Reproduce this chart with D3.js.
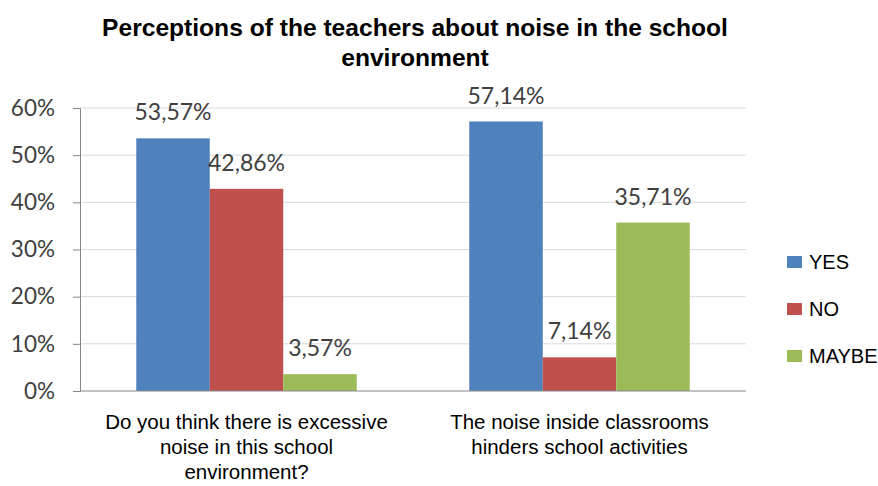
<!DOCTYPE html>
<html>
<head>
<meta charset="utf-8">
<script src="https://cdn.jsdelivr.net/npm/d3@7"></script>
<style>
  html, body { margin: 0; padding: 0; background: #fff; }
  svg { display: block; }
</style>
</head>
<body>
<svg id="chart" width="878" height="486"></svg>
<script>
// Survey answers, in percent
const categories = [
  ["Do you think there is excessive", "noise in this school", "environment?"],
  ["The noise inside classrooms", "hinders school activities"]
];
const seriesNames = ["YES", "NO", "MAYBE"];
const yesValues = [53.57, 57.14];
const noValues = [42.86, 7.14];
const maybeValues = [3.57, 35.71];
const yTicks = [0, 10, 20, 30, 40, 50, 60];
const titleLines = ["Perceptions of the teachers about noise in the school", "environment"];

const colors = ["#4F81BD", "#C0504D", "#9BBB59"];
const seriesValues = [yesValues, noValues, maybeValues];

const svg = d3.select("#chart");
const margin = { left: 80, right: 132, top: 108, bottom: 95 };
const W = 878, H = 486;
const plotW = W - margin.left - margin.right;
const plotH = H - margin.top - margin.bottom;

const g = svg.append("g").attr("transform", `translate(${margin.left},${margin.top})`);

const x0 = d3.scaleBand().domain(d3.range(categories.length)).range([0, plotW]).paddingInner(0.338).paddingOuter(0.169);
const x1 = d3.scaleBand().domain(d3.range(seriesNames.length)).range([0, x0.bandwidth()]);
const y = d3.scaleLinear().domain([0, 60]).range([plotH, 0]);

// Gridlines
g.append("g")
  .selectAll("line")
  .data(yTicks.filter(t => t > 0))
  .join("line")
  .attr("x1", 0).attr("x2", plotW)
  .attr("y1", d => y(d)).attr("y2", d => y(d))
  .attr("stroke", "#d9d9d9").attr("stroke-width", 1);

// Y axis
const yAxis = g.append("g")
  .call(d3.axisLeft(y).tickValues(yTicks).tickFormat(d => d + "%").tickSize(7).tickPadding(18));
yAxis.select(".domain").attr("stroke", "#868686");
yAxis.selectAll(".tick line").attr("stroke", "#868686");
yAxis.selectAll(".tick text")
  .attr("font-family", "Lato, 'Open Sans', sans-serif")
  .attr("font-size", 22.5)
  .attr("fill", "#404040");

// Bars
const groups = g.append("g")
  .selectAll("g")
  .data(categories.map((c, i) => i))
  .join("g")
  .attr("transform", i => `translate(${x0(i)},0)`);

groups.selectAll("rect")
  .data(i => seriesValues.map((vals, s) => ({ s, v: vals[i] })))
  .join("rect")
  .attr("x", d => x1(d.s))
  .attr("width", x1.bandwidth())
  .attr("y", d => y(d.v))
  .attr("height", d => y(0) - y(d.v))
  .attr("fill", d => colors[d.s]);

groups.selectAll("text.val")
  .data(i => seriesValues.map((vals, s) => ({ s, v: vals[i] })))
  .join("text")
  .attr("class", "val")
  .attr("x", d => x1(d.s) + x1.bandwidth() / 2)
  .attr("y", d => y(d.v) - 18)
  .attr("text-anchor", "middle")
  .attr("font-family", "Lato, 'Open Sans', sans-serif")
  .attr("font-size", 23)
  .attr("fill", "#404040")
  .text(d => d.v.toFixed(2).replace(".", ",") + "%");

// X axis baseline
g.append("line")
  .attr("x1", 0).attr("x2", plotW)
  .attr("y1", y(0)).attr("y2", y(0))
  .attr("stroke", "#868686");

// Category labels
categories.forEach((lines, i) => {
  const cx = x0(i) + x0.bandwidth() / 2;
  const t = g.append("text")
    .attr("x", cx)
    .attr("y", plotH + 38)
    .attr("text-anchor", "middle")
    .attr("font-family", "'Liberation Sans', Arial, sans-serif")
    .attr("font-size", 20.5)
    .attr("fill", "#000");
  lines.forEach((l, k) => {
    t.append("tspan").attr("x", cx).attr("dy", k === 0 ? 0 : 25).text(l);
  });
});

// Title
const title = svg.append("text")
  .attr("x", 415)
  .attr("y", 36)
  .attr("text-anchor", "middle")
  .attr("font-family", "'Liberation Sans', Arial, sans-serif")
  .attr("font-weight", "bold")
  .attr("font-size", 24.6)
  .attr("fill", "#000");
titleLines.forEach((l, k) => {
  title.append("tspan").attr("x", 415).attr("dy", k === 0 ? 0 : 30).text(l);
});

// Legend
const legend = svg.append("g").attr("transform", "translate(787,256)");
const items = legend.selectAll("g")
  .data(seriesNames)
  .join("g")
  .attr("transform", (d, i) => `translate(0,${i * 47})`);
items.append("rect").attr("width", 15).attr("height", 12).attr("fill", (d, i) => colors[i]);
items.append("text")
  .attr("x", 22).attr("y", 13)
  .attr("font-family", "'Liberation Sans', Arial, sans-serif")
  .attr("font-size", 20)
  .attr("fill", "#000")
  .text(d => d);
</script>
</body>
</html>
